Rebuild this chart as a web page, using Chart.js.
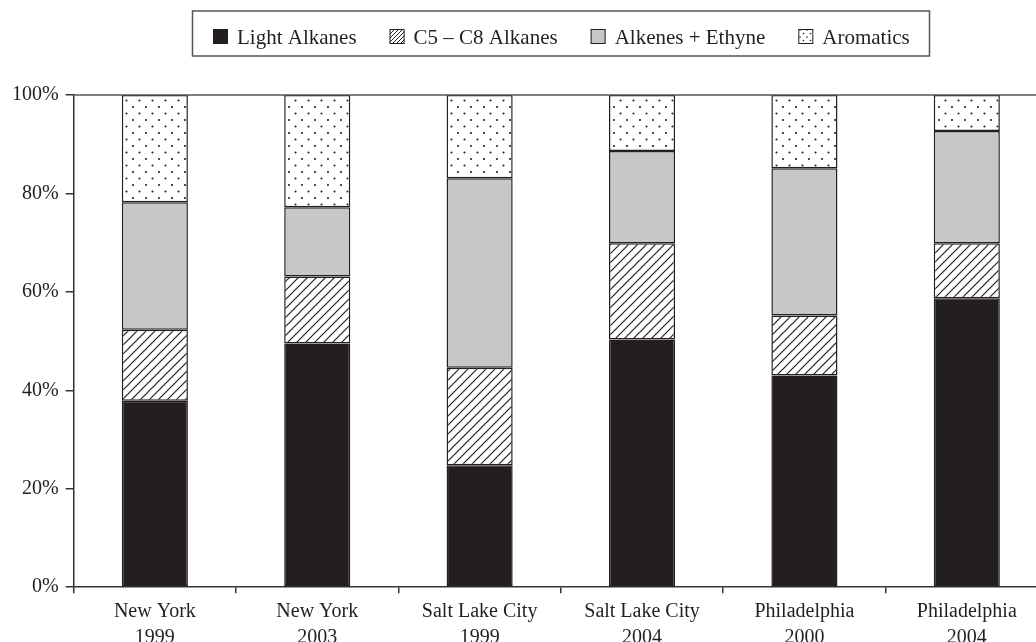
<!DOCTYPE html>
<html>
<head>
<meta charset="utf-8">
<script src="https://cdn.jsdelivr.net/npm/chart.js@4"></script>
<style>
html,body{margin:0;padding:0;background:#fff;overflow:hidden;width:1036px;height:642px;}
canvas{display:block;}
</style>
</head>
<body>
<canvas id="c" width="1060" height="656" style="width:1060px;height:656px"></canvas>
<script>
const categories = [["New York","1999"],["New York","2003"],["Salt Lake City","1999"],["Salt Lake City","2004"],["Philadelphia","2000"],["Philadelphia","2004"]];
const seriesNames = ["Light Alkanes","C5 \u2013 C8 Alkanes","Alkenes + Ethyne","Aromatics"];
const lightAlkanes = [37.9, 49.5, 24.8, 50.3, 43.0, 58.7];
const c5c8Alkanes  = [14.4, 13.6, 19.8, 19.6, 12.2, 11.2];
const alkenesEthyne= [25.9, 14.1, 38.5, 18.7, 29.9, 22.8];
const aromatics    = [21.8, 22.8, 16.9, 11.4, 14.9, 7.3];
const yTicks = [0, 20, 40, 60, 80, 100];

const INK = '#231f20';
const GRAY = '#c6c7c9';
const FONT = '"Liberation Serif", "Times New Roman", serif';

function hatchPattern(size, lw) {
  const c = document.createElement('canvas');
  c.width = size; c.height = size;
  const g = c.getContext('2d');
  g.fillStyle = '#fff'; g.fillRect(0,0,size,size);
  g.strokeStyle = INK; g.lineWidth = lw;
  g.beginPath();
  g.moveTo(-1, size+1); g.lineTo(size+1, -1);
  g.moveTo(-1, 1); g.lineTo(1, -1);
  g.moveTo(size-1, size+1); g.lineTo(size+1, size-1);
  g.stroke();
  return document.getElementById('c').getContext('2d').createPattern(c, 'repeat');
}
function dotPattern(w, h, pts, r) {
  const c = document.createElement('canvas');
  c.width = w; c.height = h;
  const g = c.getContext('2d');
  g.fillStyle = '#fff'; g.fillRect(0,0,w,h);
  g.fillStyle = '#222';
  pts.forEach(p => { g.beginPath(); g.arc(p[0], p[1], r, 0, Math.PI*2); g.fill(); });
  return document.getElementById('c').getContext('2d').createPattern(c, 'repeat');
}
const hatchBar = hatchPattern(9, 1.2);
const dotsBar = dotPattern(13, 13, [[3,3],[9.5,9.5]], 1.05);
const hatchLegend = hatchPattern(4, 1);
const dotsLegend = dotPattern(7, 7, [[2,2],[5.5,5.5]], 0.8);

const fills = [INK, hatchBar, GRAY, dotsBar];
const legendFills = [INK, hatchLegend, GRAY, dotsLegend];
const values = [lightAlkanes, c5c8Alkanes, alkenesEthyne, aromatics];

const legendPlugin = {
  id: 'customLegend',
  afterDraw(chart) {
    const ctx = chart.ctx;
    ctx.save();
    ctx.font = '21px ' + FONT;
    const box = 15, gapBT = 9, gapItems = 33;
    const widths = seriesNames.map(t => ctx.measureText(t).width);
    let total = 0;
    widths.forEach((w,i) => { total += box + gapBT + w + (i < widths.length-1 ? gapItems : 0); });
    const cx = 561;
    let x = Math.round(cx - total/2);
    ctx.strokeStyle = '#555';
    ctx.lineWidth = 1.5;
    ctx.strokeRect(192.5, 11, 737, 45);
    const by = 29;
    seriesNames.forEach((t,i) => {
      ctx.fillStyle = legendFills[i];
      ctx.fillRect(x, by, box, box);
      ctx.strokeStyle = INK; ctx.lineWidth = 1;
      ctx.strokeRect(x+0.5, by+0.5, box-1, box-1);
      ctx.fillStyle = INK;
      ctx.textBaseline = 'alphabetic';
      ctx.textAlign = 'left';
      ctx.fillText(t, x + box + gapBT, by + box);
      x += box + gapBT + widths[i] + gapItems;
    });
    ctx.restore();
  }
};
const topLinePlugin = {
  id: 'topLine',
  afterDatasetsDraw(chart) {
    const {ctx, chartArea} = chart;
    ctx.save();
    ctx.strokeStyle = '#555';
    ctx.lineWidth = 1.5;
    ctx.beginPath();
    ctx.moveTo(chartArea.left, chartArea.top);
    ctx.lineTo(chartArea.right + 20, chartArea.top);
    ctx.stroke();
    ctx.restore();
  }
};

new Chart(document.getElementById('c'), {
  type: 'bar',
  data: {
    labels: categories,
    datasets: seriesNames.map((n,i) => ({
      label: n,
      data: values[i],
      backgroundColor: fills[i],
      borderColor: INK,
      borderWidth: 1.5,
      borderSkipped: false,
      barPercentage: 0.407,
      categoryPercentage: 1.0
    }))
  },
  options: {
    responsive: false,
    devicePixelRatio: 1,
    animation: false,
    layout: { padding: { left: 5, right: 12, top: 95, bottom: 0 } },
    plugins: { legend: { display: false }, tooltip: { enabled: false }, title: { display: false } },
    scales: {
      x: {
        stacked: true,
        grid: { drawOnChartArea: false, drawTicks: true, tickLength: 6, color: '#333', lineWidth: 1.5, offset: true },
        border: { display: true, color: '#333', width: 1.5 },
        ticks: { color: INK, font: { family: FONT, size: 20, lineHeight: 1.32 }, padding: 5, maxRotation: 0, autoSkip: false }
      },
      y: {
        stacked: true,
        min: 0, max: 100,
        afterBuildTicks(axis) { axis.ticks = yTicks.map(v => ({ value: v })); },
        grid: { drawOnChartArea: false, drawTicks: true, tickLength: 8, color: '#333', lineWidth: 1.5 },
        border: { display: true, color: '#333', width: 1.5 },
        ticks: { color: INK, font: { family: FONT, size: 20 }, padding: 7, callback: v => v + '%' }
      }
    }
  },
  plugins: [legendPlugin, topLinePlugin]
});
</script>
</body>
</html>
